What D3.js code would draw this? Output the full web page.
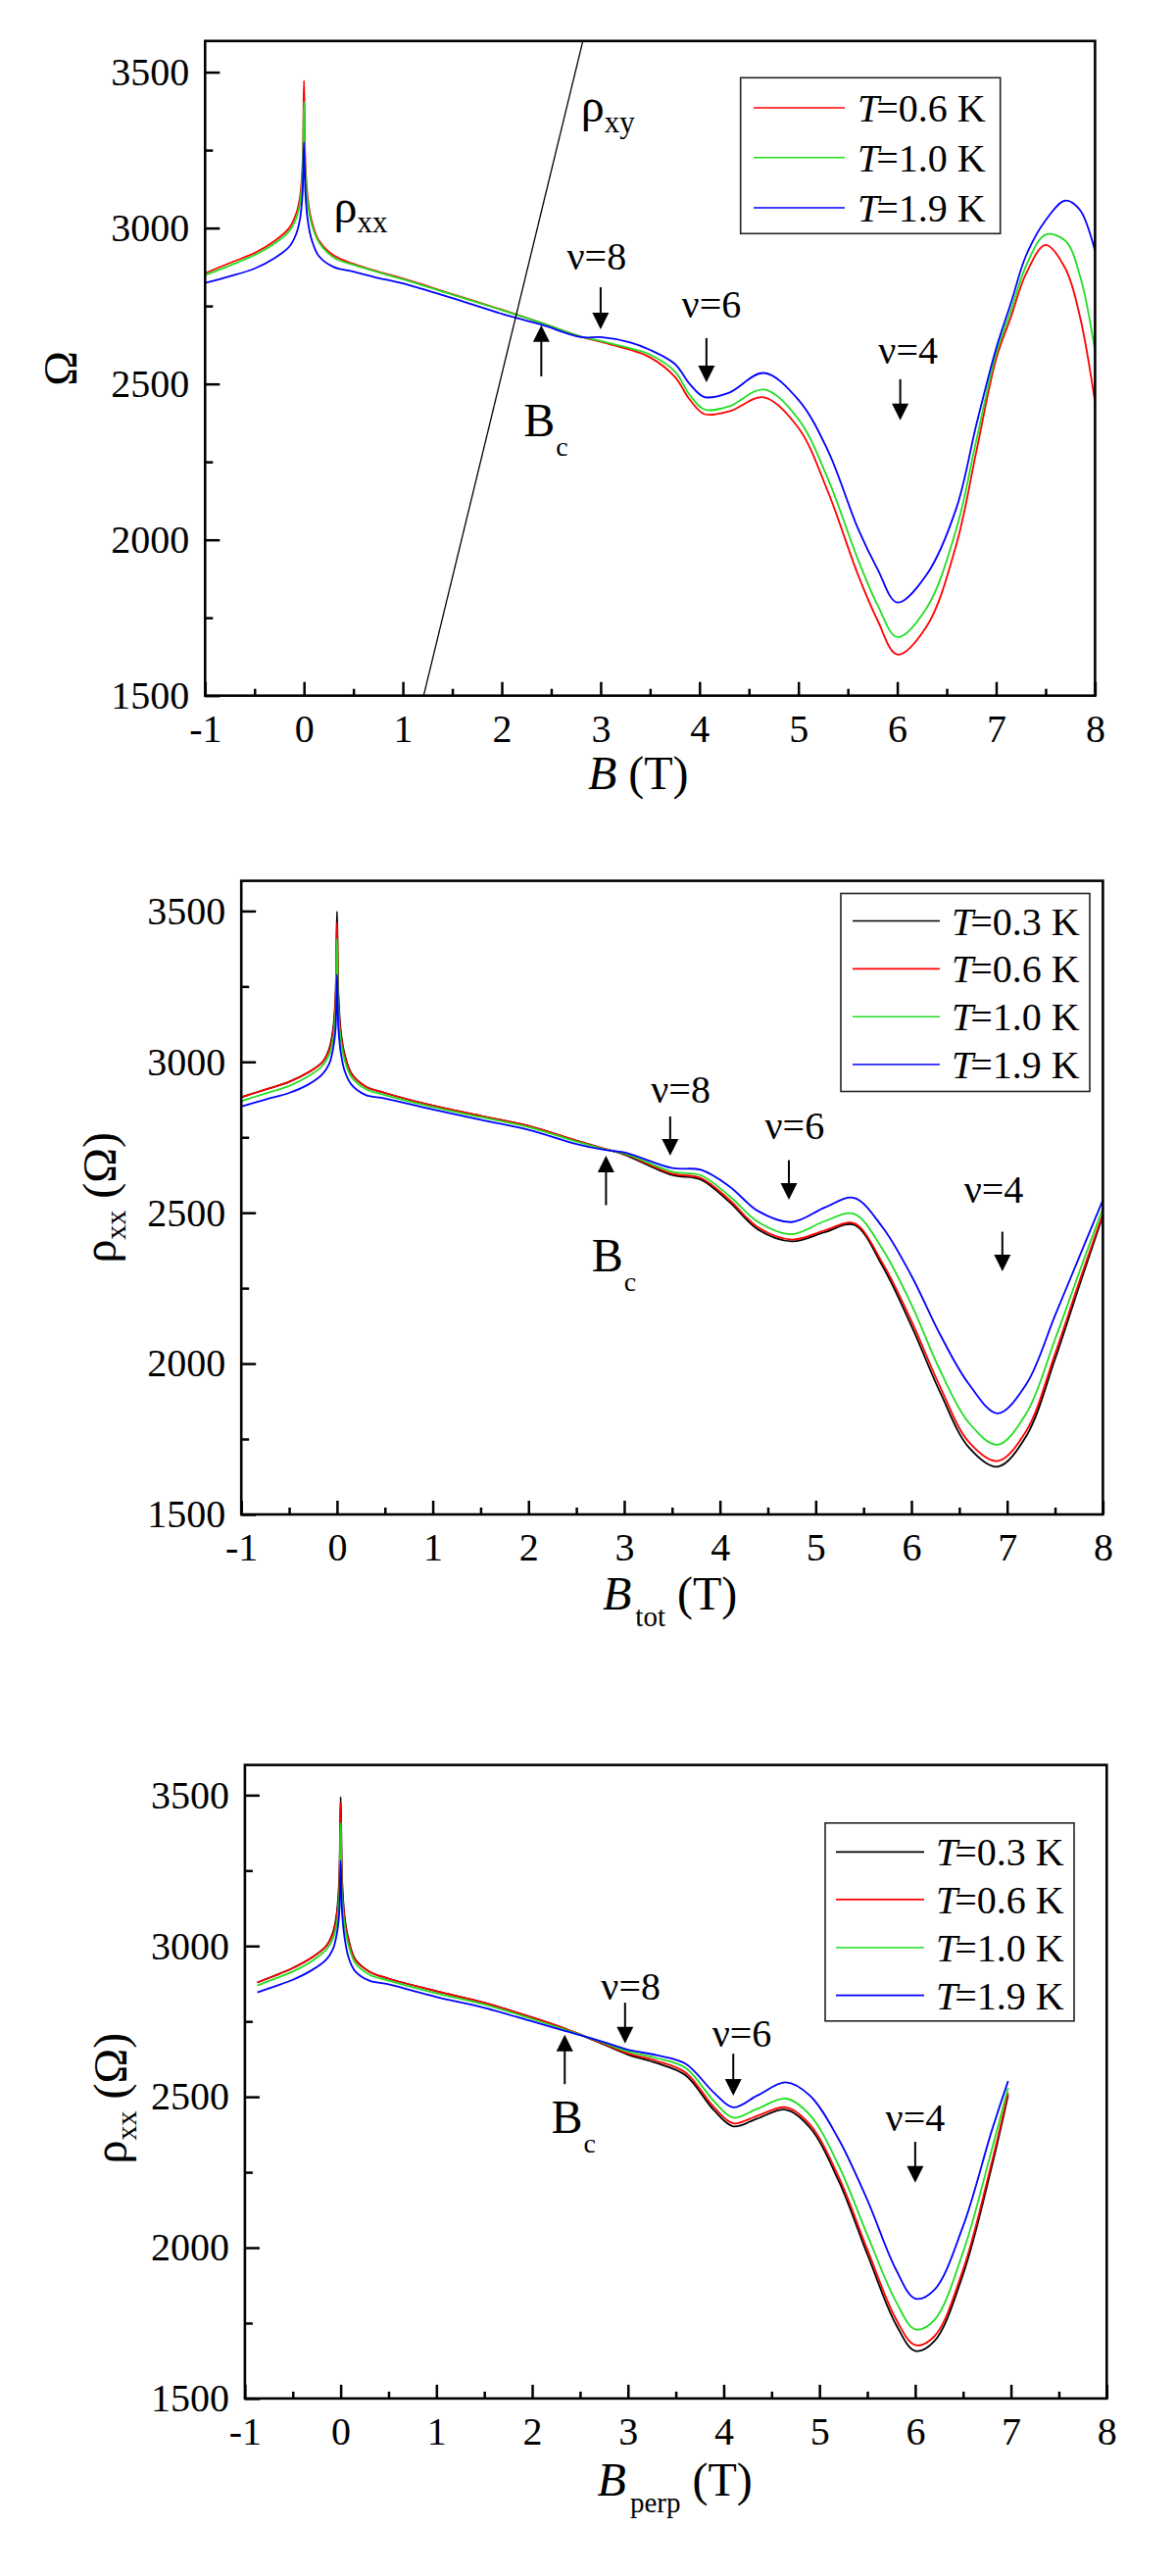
<!DOCTYPE html>
<html>
<head>
<meta charset="utf-8">
<script src="https://cdn.jsdelivr.net/npm/d3@7"></script>
<style>
  body { margin: 0; background: #fff; }
  svg, svg text { font-family: "Liberation Serif", "DejaVu Serif", "Times New Roman", serif; }
</style>
</head>
<body>
<div id="chart"></div>
<script>
// ---- shared axis ticks ----
const bTicks = [-1, 0, 1, 2, 3, 4, 5, 6, 7, 8];
const bMinor = [-0.5, 0.5, 1.5, 2.5, 3.5, 4.5, 5.5, 6.5, 7.5];
const rhoTicks = [1500, 2000, 2500, 3000, 3500];
const rhoMinor = [1750, 2250, 2750, 3250];

const tempNames = ["0.3", "0.6", "1.0", "1.9"];
const tempColors = ["#000000", "#ff0000", "#22dd22", "#0000ff"];
const FONT = "'Liberation Serif', 'DejaVu Serif', serif";

// ---- panel 1 : rho_xx vs B ----
const p1B = [-1, -0.75, -0.5, -0.3, -0.15, -0.08, -0.04, -0.015, 0, 0.015, 0.04, 0.08, 0.15, 0.3, 0.5, 0.75, 1.0, 1.5, 2.0, 2.4, 2.8, 3.0, 3.3, 3.5, 3.75, 3.9, 4.05, 4.3, 4.65, 5.0, 5.3, 5.6, 5.8, 6.0, 6.3, 6.6, 6.8, 7.0, 7.15, 7.3, 7.5, 7.7, 7.85, 8.0];
const p1T06 = [2855, 2888, 2920, 2958, 3000, 3045, 3100, 3200, 3473, 3200, 3090, 3020, 2960, 2912, 2885, 2860, 2838, 2788, 2738, 2696, 2652, 2635, 2609, 2585, 2523, 2450, 2403, 2412, 2457, 2359, 2153, 1890, 1742, 1632, 1724, 1988, 2284, 2581, 2715, 2852, 2946, 2870, 2712, 2441];
const p1T10 = [2849, 2880, 2913, 2950, 2990, 3030, 3080, 3170, 3405, 3170, 3075, 3010, 2955, 2905, 2882, 2858, 2836, 2786, 2737, 2696, 2652, 2638, 2614, 2594, 2540, 2465, 2418, 2428, 2482, 2387, 2194, 1939, 1791, 1688, 1783, 2038, 2320, 2597, 2735, 2877, 2979, 2959, 2844, 2605];
const p1T19 = [2824, 2845, 2870, 2903, 2940, 2980, 3030, 3110, 3275, 3110, 3020, 2960, 2910, 2875, 2860, 2840, 2822, 2775, 2725, 2690, 2650, 2650, 2633, 2609, 2564, 2500, 2458, 2472, 2535, 2449, 2285, 2038, 1906, 1799, 1890, 2104, 2370, 2614, 2760, 2910, 3025, 3088, 3057, 2926];
// Hall line rho_xy (straight, clipped by the frame)
const p1HallB = [1.21, 2.82];
const p1HallRho = [1500, 3600];

// ---- panel 2 : rho_xx vs B_tot ----
const p2B = [-1, -0.75, -0.5, -0.3, -0.15, -0.08, -0.04, -0.015, 0, 0.015, 0.04, 0.08, 0.15, 0.3, 0.5, 1.0, 1.5, 2.0, 2.5, 2.8, 3.0, 3.5, 3.8, 4.1, 4.4, 4.75, 5.1, 5.4, 5.7, 6.0, 6.3, 6.6, 6.9, 7.2, 7.5, 7.75, 8.0];
const p2T03 = [2883, 2908, 2934, 2965, 3000, 3045, 3110, 3220, 3498, 3220, 3100, 3025, 2962, 2918, 2897, 2855, 2821, 2788, 2739, 2711, 2693, 2625, 2610, 2535, 2444, 2405, 2436, 2460, 2322, 2125, 1905, 1722, 1658, 1760, 2015, 2255, 2490];
const p2T06 = [2883, 2908, 2934, 2965, 3000, 3040, 3100, 3200, 3462, 3200, 3090, 3020, 2960, 2918, 2897, 2855, 2821, 2788, 2739, 2711, 2695, 2629, 2615, 2542, 2451, 2411, 2442, 2465, 2332, 2141, 1923, 1740, 1677, 1777, 2032, 2268, 2496];
const p2T10 = [2870, 2895, 2920, 2952, 2988, 3025, 3075, 3160, 3407, 3160, 3070, 3005, 2950, 2910, 2890, 2850, 2817, 2784, 2736, 2710, 2697, 2636, 2624, 2555, 2469, 2429, 2473, 2496, 2378, 2196, 1977, 1804, 1731, 1835, 2080, 2300, 2515];
const p2T19 = [2852, 2875, 2897, 2925, 2960, 2995, 3045, 3110, 3289, 3110, 3030, 2970, 2925, 2890, 2879, 2842, 2808, 2775, 2728, 2708, 2700, 2648, 2642, 2587, 2505, 2469, 2518, 2549, 2451, 2291, 2096, 1932, 1835, 1932, 2159, 2351, 2542];

// ---- panel 3 : rho_xx vs B_perp ----
const p3B = [-0.87, -0.7, -0.5, -0.3, -0.15, -0.08, -0.04, -0.015, 0, 0.015, 0.04, 0.08, 0.15, 0.3, 0.5, 1.0, 1.5, 2.0, 2.35, 2.7, 3.0, 3.3, 3.6, 3.9, 4.1, 4.35, 4.65, 4.9, 5.2, 5.5, 5.8, 6.0, 6.2, 6.5, 6.8, 6.97];
const p3T03 = [2879, 2900, 2927, 2962, 3000, 3045, 3110, 3220, 3494, 3220, 3100, 3025, 2957, 2915, 2892, 2850, 2812, 2763, 2725, 2680, 2640, 2612, 2572, 2455, 2402, 2428, 2457, 2398, 2222, 1978, 1745, 1658, 1690, 1912, 2270, 2505];
const p3T06 = [2879, 2900, 2927, 2962, 3000, 3040, 3100, 3200, 3475, 3200, 3090, 3020, 2955, 2915, 2892, 2850, 2812, 2763, 2725, 2682, 2644, 2619, 2581, 2465, 2412, 2437, 2465, 2408, 2235, 1994, 1763, 1677, 1706, 1927, 2283, 2513];
const p3T10 = [2869, 2890, 2915, 2950, 2988, 3025, 3075, 3160, 3408, 3160, 3070, 3005, 2945, 2905, 2885, 2843, 2806, 2758, 2722, 2684, 2650, 2628, 2596, 2485, 2431, 2460, 2494, 2440, 2273, 2042, 1821, 1729, 1760, 1985, 2325, 2530];
const p3T19 = [2846, 2865, 2888, 2920, 2955, 2990, 3040, 3110, 3283, 3110, 3030, 2965, 2917, 2885, 2873, 2831, 2795, 2750, 2718, 2686, 2656, 2638, 2610, 2513, 2465, 2504, 2548, 2504, 2360, 2158, 1927, 1831, 1860, 2071, 2388, 2552];

// filling-factor arrows: b = arrow position, tb = text centre, values in ohm
const p1Nu = [
  { text: "8", b: 3.0, tb: 2.96, tip: 2675, tail: 2810, ty: 2867 },
  { text: "6", b: 4.07, tb: 4.12, tip: 2505, tail: 2647, ty: 2713 },
  { text: "4", b: 6.03, tb: 6.11, tip: 2383, tail: 2515, ty: 2565 }
];
const p2Nu = [
  { text: "8", b: 3.48, tb: 3.59, tip: 2689, tail: 2819, ty: 2864 },
  { text: "6", b: 4.72, tb: 4.78, tip: 2543, tail: 2674, ty: 2744 },
  { text: "4", b: 6.95, tb: 6.86, tip: 2306, tail: 2437, ty: 2533 }
];
const p3Nu = [
  { text: "8", b: 2.97, tb: 3.03, tip: 2677, tail: 2812, ty: 2822 },
  { text: "6", b: 4.1, tb: 4.19, tip: 2504, tail: 2643, ty: 2667 },
  { text: "4", b: 6.0, tb: 6.0, tip: 2215, tail: 2351, ty: 2388 }
];
const p1Bc = { b: 2.40, tip: 2688, tail: 2524, tb: 2.22, ty: 2333 };
const p2Bc = { b: 2.81, tip: 2689, tail: 2525, tb: 2.66, ty: 2306 };
const p3Bc = { b: 2.34, tip: 2706, tail: 2542, tb: 2.20, ty: 2380 };

const panels = [
  {
    left: 209.3, top: 41.8, width: 908.1, height: 667.9,
    b: p1B, series: [[1, p1T06], [2, p1T10], [3, p1T19]],
    legend: { x: 546.4, y: 37.5, w: 265, h: 159, rows: [30.7, 81.4, 132.7], x0: 13.3, x1: 106.3, tx: 119.3 },
    nu: p1Nu, bc: p1Bc,
    xlab: { x: 390.7, y: 763.5, sub: "" },
    ylab: { x: -131, y: 334, main: "Ω" }
  },
  {
    left: 246.2, top: 898.6, width: 879.2, height: 646.4,
    b: p2B, series: [[0, p2T03], [1, p2T06], [2, p2T10], [3, p2T19]],
    legend: { x: 611.8, y: 12.9, w: 254, h: 202, rows: [28, 76.9, 125.7, 174.5], x0: 12, x1: 101, tx: 113 },
    nu: p2Nu, bc: p2Bc,
    xlab: { x: 368.8, y: 743.4, sub: "tot" },
    ylab: { x: -128.7, y: 323.2, main: "rho" }
  },
  {
    left: 249.9, top: 1800.6, width: 879.4, height: 646.3,
    b: p3B, series: [[0, p3T03], [1, p3T06], [2, p3T10], [3, p3T19]],
    legend: { x: 592.1, y: 59.2, w: 254, h: 202, rows: [29.6, 78.1, 127.2, 175.8], x0: 11, x1: 101, tx: 113 },
    nu: p3Nu, bc: p3Bc,
    xlab: { x: 359.7, y: 745.4, sub: "perp" },
    ylab: { x: -121, y: 340, main: "rho" }
  }
];

const svg = d3.select("#chart").append("svg")
  .attr("width", 1200).attr("height", 2628)
  .attr("font-family", FONT);
svg.append("rect").attr("width", 1200).attr("height", 2628).attr("fill", "#fff");

function arrow(g, x, yTip, yTail) {
  const dir = yTip > yTail ? 1 : -1;   // 1 = pointing down
  const head = 17, half = 8.5;
  g.append("line")
    .attr("x1", x).attr("x2", x)
    .attr("y1", yTail).attr("y2", yTip - dir * head + dir * 2)
    .attr("stroke", "#000").attr("stroke-width", 2);
  g.append("path")
    .attr("d", `M${x},${yTip} L${x - half},${yTip - dir * head} L${x + half},${yTip - dir * head} Z`)
    .attr("fill", "#000");
}

function drawPanel(p, idx) {
  const g = svg.append("g").attr("transform", `translate(${p.left},${p.top})`);
  const x = d3.scaleLinear().domain([-1, 8]).range([0, p.width]);
  const y = d3.scaleLinear().domain([1500, 3600]).range([p.height, 0]);

  // axes, ticks pointing into the frame
  const ax = g.append("g").attr("transform", `translate(0,${p.height})`)
    .call(d3.axisBottom(x).tickValues(bTicks).tickSize(-14).tickSizeOuter(0).tickPadding(19).tickFormat(d => String(d)));
  const axm = g.append("g").attr("transform", `translate(0,${p.height})`)
    .call(d3.axisBottom(x).tickValues(bMinor).tickSize(-7).tickSizeOuter(0).tickFormat(""));
  const ay = g.append("g")
    .call(d3.axisLeft(y).tickValues(rhoTicks).tickSize(-15).tickSizeOuter(0).tickPadding(16).tickFormat(d => String(d)));
  const aym = g.append("g")
    .call(d3.axisLeft(y).tickValues(rhoMinor).tickSize(-8).tickSizeOuter(0).tickFormat(""));
  [ax, axm, ay, aym].forEach(a => {
    a.attr("font-family", FONT).attr("font-size", 40);
    a.select(".domain").remove();
    a.selectAll(".tick line").attr("stroke", "#000").attr("stroke-width", 2.5);
    a.selectAll(".tick text").attr("fill", "#000");
  });

  // data curves
  const line = d3.line()
    .x((d, i) => x(p.b[i]))
    .y(d => y(d))
    .curve(d3.curveCatmullRom.alpha(0.5));
  p.series.forEach(([ti, vals]) => {
    g.append("path").datum(vals)
      .attr("d", line)
      .attr("fill", "none")
      .attr("stroke", tempColors[ti])
      .attr("stroke-width", 1.8);
  });

  // Hall line in the first panel
  if (idx === 0) {
    g.append("path")
      .datum(p1HallB.map((b, i) => [b, p1HallRho[i]]))
      .attr("d", d3.line().x(d => x(d[0])).y(d => y(d[1])))
      .attr("stroke", "#000").attr("stroke-width", 1.3).attr("fill", "none");
    const t1 = g.append("text").attr("x", x(0.30)).attr("y", y(3018)).attr("font-size", 48);
    t1.append("tspan").text("ρ");
    t1.append("tspan").attr("dy", 10).attr("font-size", 31).text("xx");
    const t2 = g.append("text").attr("x", x(2.80)).attr("y", y(3342)).attr("font-size", 48);
    t2.append("tspan").text("ρ");
    t2.append("tspan").attr("dy", 11).attr("font-size", 31).text("xy");
  }

  // frame
  g.append("rect").attr("width", p.width).attr("height", p.height)
    .attr("fill", "none").attr("stroke", "#000").attr("stroke-width", 2.6);

  // legend
  const L = p.legend;
  const lg = g.append("g").attr("transform", `translate(${L.x},${L.y})`);
  lg.append("rect").attr("width", L.w).attr("height", L.h)
    .attr("fill", "#fff").attr("stroke", "#222").attr("stroke-width", 1.6);
  p.series.forEach(([ti], k) => {
    lg.append("line").attr("x1", L.x0).attr("x2", L.x1)
      .attr("y1", L.rows[k]).attr("y2", L.rows[k])
      .attr("stroke", tempColors[ti]).attr("stroke-width", 1.6);
    const t = lg.append("text").attr("x", L.tx).attr("y", L.rows[k] + 14).attr("font-size", 40);
    t.append("tspan").attr("font-style", "italic").text("T");
    t.append("tspan").attr("dx", -3).text("=" + tempNames[ti] + " K");
  });

  // nu arrows
  p.nu.forEach(n => {
    arrow(g, x(n.b), y(n.tip), y(n.tail));
    g.append("text").attr("x", x(n.tb)).attr("y", y(n.ty))
      .attr("text-anchor", "middle").attr("font-size", 40)
      .text("ν=" + n.text);
  });

  // B_c arrow
  const c = p.bc;
  arrow(g, x(c.b), y(c.tip), y(c.tail));
  const bt = g.append("text").attr("x", x(c.tb)).attr("y", y(c.ty)).attr("font-size", 48);
  bt.append("tspan").text("B");
  bt.append("tspan").attr("dx", 1).attr("dy", 20).attr("font-size", 28).text("c");

  // x label
  const xl = g.append("text").attr("x", p.xlab.x).attr("y", p.xlab.y).attr("font-size", 48);
  xl.append("tspan").attr("font-style", "italic").text("B");
  if (p.xlab.sub) {
    xl.append("tspan").attr("dx", 4).attr("dy", 17).attr("font-size", 29).text(p.xlab.sub);
    xl.append("tspan").attr("dy", -17).text("\u00a0(T)");
  } else {
    xl.append("tspan").text(" (T)");
  }

  // y label
  const yl = g.append("text")
    .attr("transform", `translate(${p.ylab.x},${p.ylab.y}) rotate(-90)`)
    .attr("text-anchor", "middle").attr("font-size", 48);
  if (p.ylab.main === "Ω") {
    yl.text("Ω");
  } else {
    yl.append("tspan").text("ρ");
    yl.append("tspan").attr("dy", 10).attr("font-size", 30).text("xx");
    yl.append("tspan").attr("dy", -10).text("\u00a0(Ω)");
  }
}

panels.forEach(drawPanel);
</script>
</body>
</html>
